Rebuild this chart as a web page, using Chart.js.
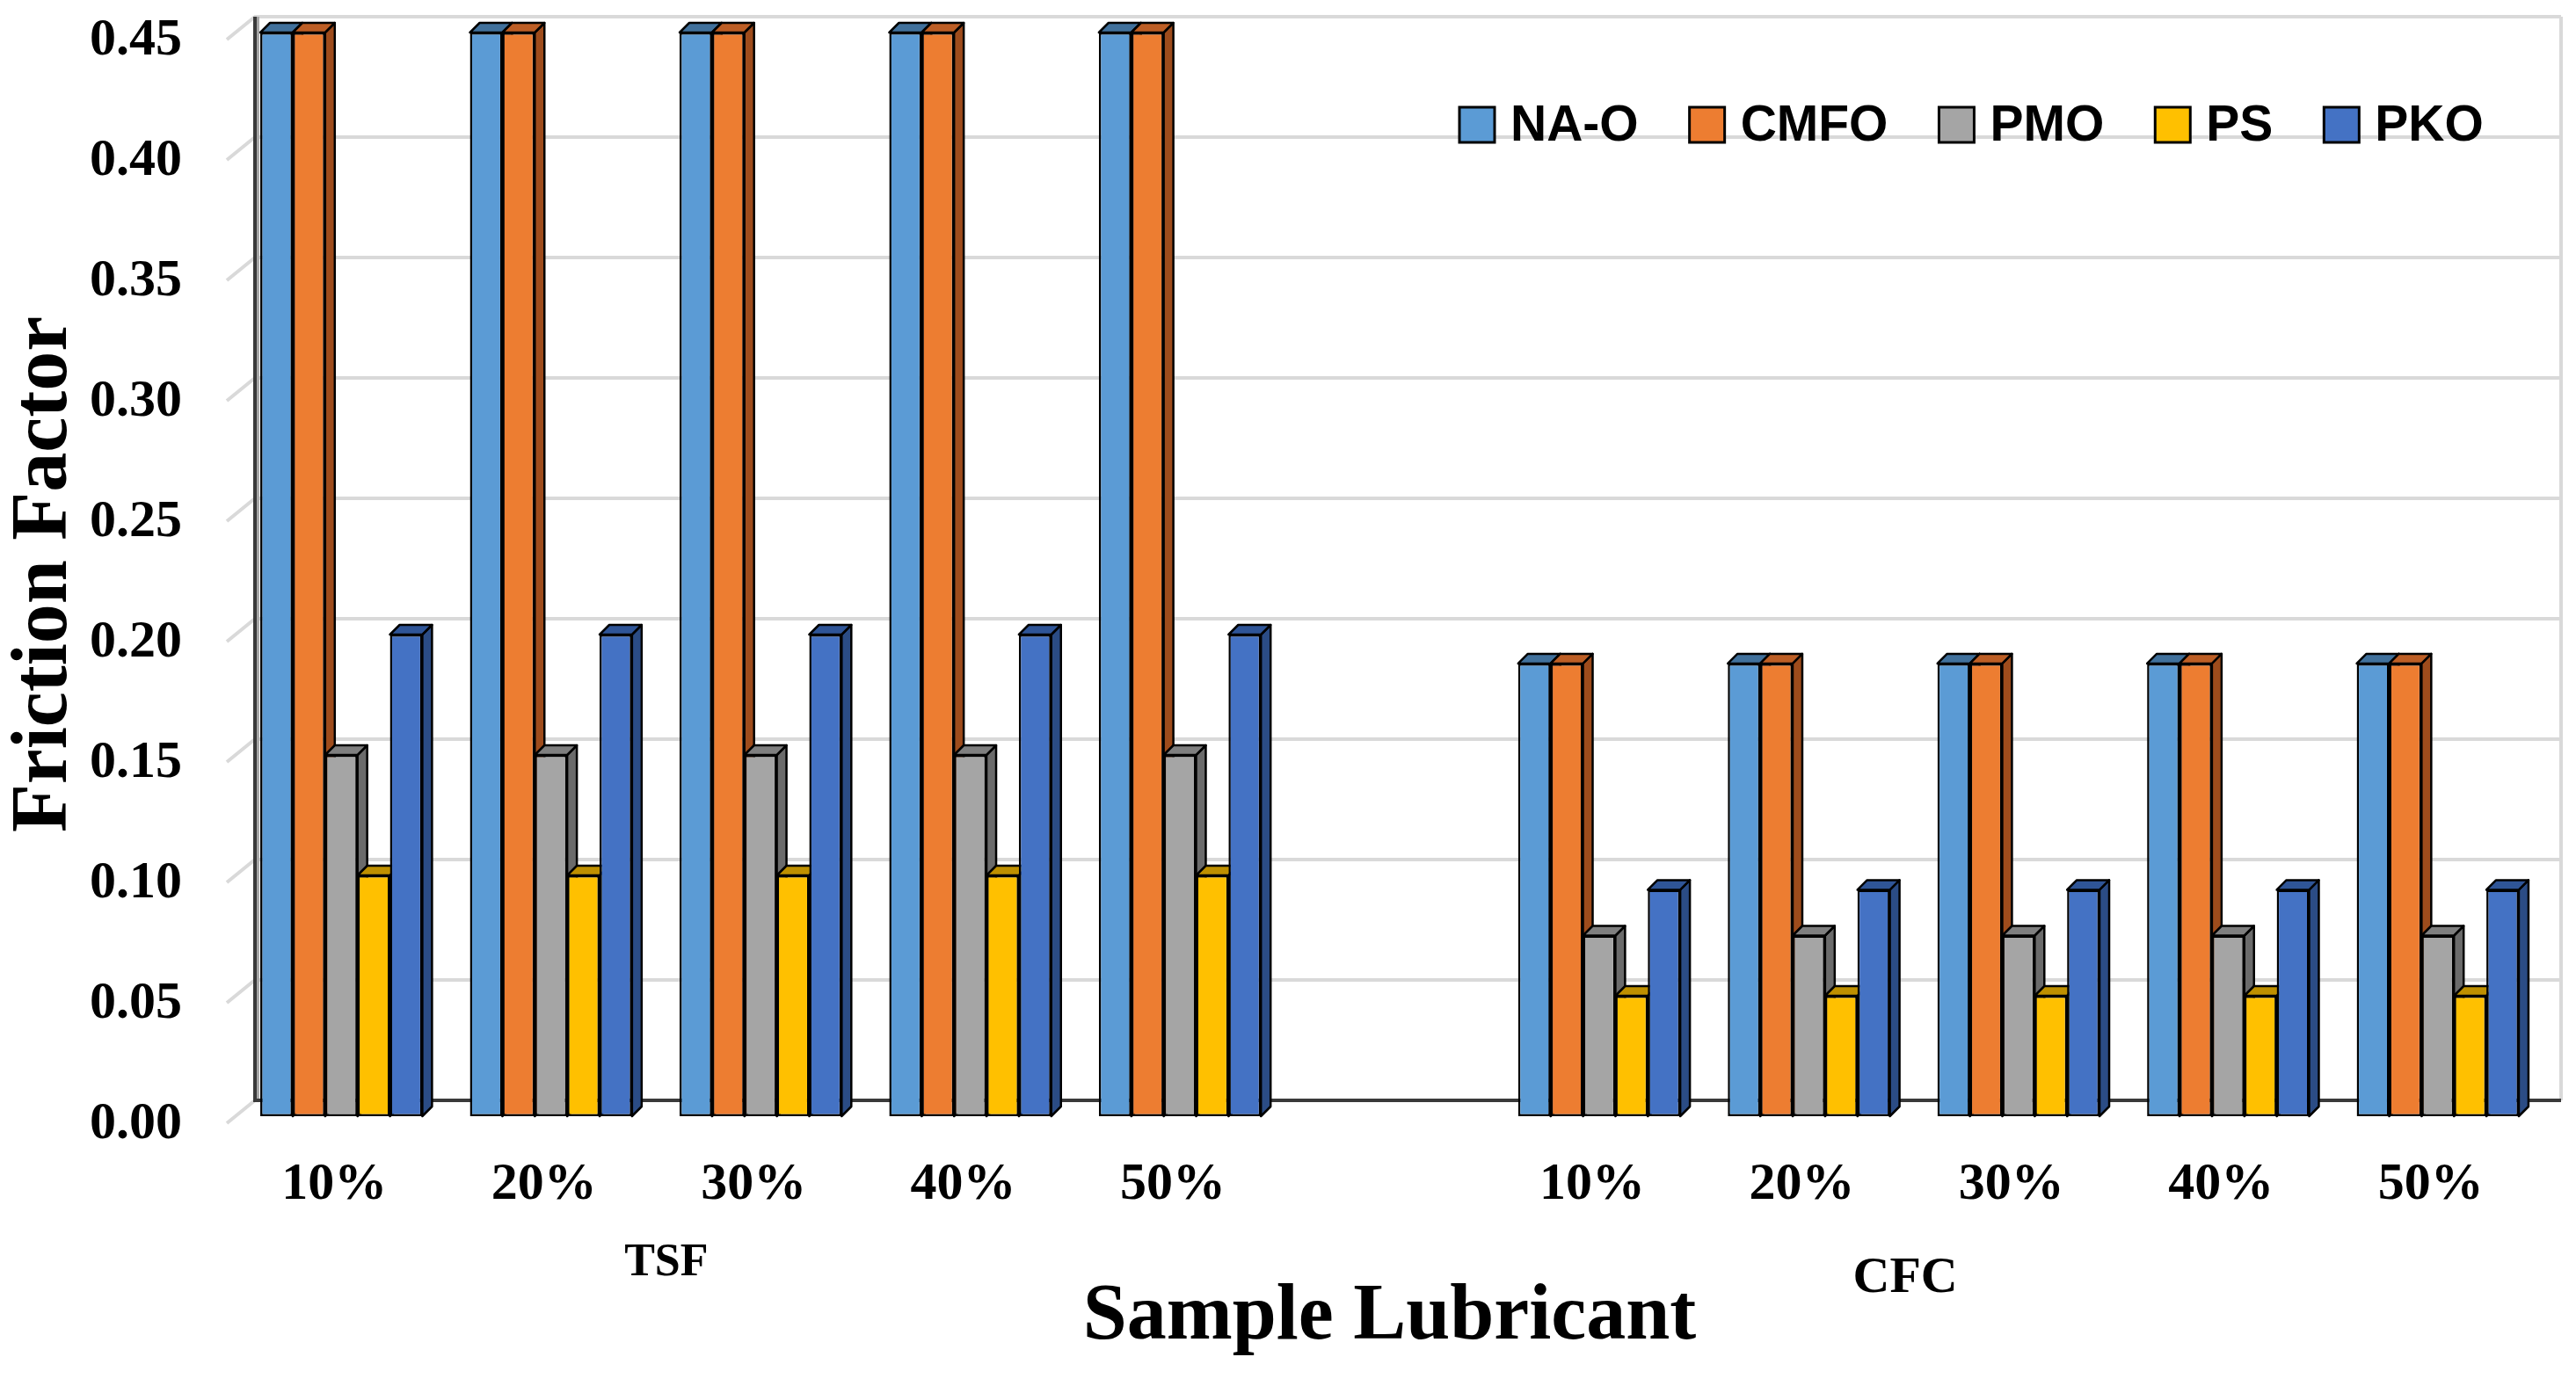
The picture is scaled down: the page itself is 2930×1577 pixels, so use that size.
<!DOCTYPE html>
<html>
<head>
<meta charset="utf-8">
<script src="https://cdn.jsdelivr.net/npm/chart.js@4.4.1/dist/chart.umd.min.js"></script>
<style>
  html, body { margin: 0; padding: 0; background: #fff; }
  canvas { display: block; }
</style>
</head>
<body>
<canvas id="chart" width="2930" height="1577"></canvas>
<script>
// categories: two groups of five concentrations with an empty slot between
const categories = ['10%', '20%', '30%', '40%', '50%', '', '10%', '20%', '30%', '40%', '50%'];
const groupNames = ['TSF', 'CFC'];
const groupMiddle = [2, 8];
const seriesNames = ['NA-O', 'CMFO', 'PMO', 'PS', 'PKO'];

// friction factor values
const naO  = [0.45, 0.45, 0.45, 0.45, 0.45, null, 0.188, 0.188, 0.188, 0.188, 0.188];
const cmfo = [0.45, 0.45, 0.45, 0.45, 0.45, null, 0.188, 0.188, 0.188, 0.188, 0.188];
const pmo  = [0.15, 0.15, 0.15, 0.15, 0.15, null, 0.075, 0.075, 0.075, 0.075, 0.075];
const ps   = [0.10, 0.10, 0.10, 0.10, 0.10, null, 0.05, 0.05, 0.05, 0.05, 0.05];
const pko  = [0.20, 0.20, 0.20, 0.20, 0.20, null, 0.094, 0.094, 0.094, 0.094, 0.094];

const yTicks = [0, 0.05, 0.10, 0.15, 0.20, 0.25, 0.30, 0.35, 0.40, 0.45];

const frontColors = ['#5B9BD5', '#ED7D31', '#A5A5A5', '#FFC000', '#4472C4'];
const topColors   = ['#41719C', '#BD5E25', '#7F7F7F', '#BF9000', '#2F5597'];
const sideColors  = ['#3A6690', '#9E4C1C', '#6B6B6B', '#A67C00', '#2B4C85'];

const seriesValues = [naO, cmfo, pmo, ps, pko];

const DEPTH = 11;     // bar depth in px
const BACK_DX = 21;   // back wall offset
const BACK_DY = 18;

function poly(ctx, pts, fill) {
  ctx.beginPath();
  ctx.moveTo(pts[0][0], pts[0][1]);
  for (let k = 1; k < pts.length; k++) ctx.lineTo(pts[k][0], pts[k][1]);
  ctx.closePath();
  ctx.fillStyle = fill;
  ctx.fill();
  ctx.stroke();
}

// back wall, floor and the 3D faces of the bars
const wall3d = {
  id: 'wall3d',
  beforeDatasetsDraw(chart) {
    const { ctx, chartArea: a, scales: { x, y } } = chart;
    const yTop = y.getPixelForValue(y.max) - BACK_DY;
    const yBot = y.getPixelForValue(0) - BACK_DY;
    ctx.save();
    ctx.strokeStyle = '#D9D9D9';
    ctx.lineWidth = 4;
    y.ticks.forEach(t => {
      const py = y.getPixelForValue(t.value);
      ctx.beginPath();
      ctx.moveTo(a.left - 11, py + 8);
      ctx.lineTo(a.left + BACK_DX, py - BACK_DY);
      if (t.value > 0) ctx.lineTo(a.right + BACK_DX, py - BACK_DY);
      ctx.stroke();
    });
    ctx.beginPath();
    ctx.moveTo(a.right + BACK_DX, yTop);
    ctx.lineTo(a.right + BACK_DX, yBot);
    ctx.stroke();

    // left wall edge: dark line with a grey rim
    ctx.strokeStyle = '#A6A6A6';
    ctx.lineWidth = 3;
    ctx.beginPath();
    ctx.moveTo(a.left + BACK_DX + 3.5, yTop);
    ctx.lineTo(a.left + BACK_DX + 3.5, yBot);
    ctx.stroke();

    ctx.strokeStyle = '#3A3A3A';
    ctx.lineWidth = 4;
    ctx.beginPath();
    ctx.moveTo(a.left + BACK_DX, yTop);
    ctx.lineTo(a.left + BACK_DX, yBot);
    ctx.lineTo(a.right + BACK_DX, yBot);
    ctx.stroke();

    ctx.strokeStyle = '#000';
    ctx.lineWidth = 2.5;
    ctx.lineJoin = 'round';
    chart.data.datasets.forEach((ds, i) => {
      chart.getDatasetMeta(i).data.forEach((bar, j) => {
        if (ds.data[j] == null) return;
        const p = bar.getProps(['x', 'y', 'base', 'width'], true);
        const l = p.x - p.width / 2, r = p.x + p.width / 2;
        poly(ctx, [[r, p.y], [r + DEPTH, p.y - DEPTH], [r + DEPTH, p.base - DEPTH], [r, p.base]], sideColors[i]);
        poly(ctx, [[l, p.y], [l + DEPTH, p.y - DEPTH], [r + DEPTH, p.y - DEPTH], [r, p.y]], topColors[i]);
      });
    });
    ctx.restore();
  },
  afterDraw(chart) {
    const { ctx, scales: { x } } = chart;
    ctx.save();
    // group labels under the concentrations
    ctx.fillStyle = '#000';
    ctx.textAlign = 'center';
    ctx.textBaseline = 'middle';
    const step = x.getPixelForValue(1) - x.getPixelForValue(0);
    ctx.font = 'bold 52px "Liberation Serif"';
    ctx.fillText(groupNames[0], x.getPixelForValue(groupMiddle[0]) - 0.45 * step, 1438);
    ctx.font = 'bold 58px "Liberation Serif"';
    ctx.fillText(groupNames[1], x.getPixelForValue(groupMiddle[1]) - 0.54 * step, 1455);

    // legend inside the plot, top right
    ctx.font = 'bold 57px "Liberation Sans"';
    ctx.textAlign = 'left';
    let lx = 1660;
    const ly = 142;
    chart.data.datasets.forEach((ds, i) => {
      ctx.fillStyle = frontColors[i];
      ctx.strokeStyle = '#000';
      ctx.lineWidth = 3;
      ctx.fillRect(lx, ly - 20, 40, 40);
      ctx.strokeRect(lx, ly - 20, 40, 40);
      ctx.fillStyle = '#000';
      ctx.fillText(ds.label, lx + 58, ly + 2);
      lx += 58 + ctx.measureText(ds.label).width + 58;
    });
    ctx.restore();
  }
};

new Chart(document.getElementById('chart'), {
  type: 'bar',
  data: {
    labels: categories,
    datasets: seriesNames.map((name, i) => ({
      label: name,
      data: seriesValues[i],
      backgroundColor: frontColors[i],
      borderColor: '#000',
      borderWidth: 2.5,
      borderSkipped: false,
      barPercentage: 1,
      categoryPercentage: 0.773
    }))
  },
  options: {
    responsive: false,
    devicePixelRatio: 1,
    animation: false,
    layout: { padding: { left: 0, right: 38, top: 0, bottom: 20 } },
    plugins: {
      legend: { display: false },
      tooltip: { enabled: false }
    },
    scales: {
      x: {
        afterFit: axis => {
          axis.height = 287;
          axis.paddingLeft = 0;
          axis.paddingRight = 0;
        },
        grid: { display: false, drawTicks: false },
        border: { display: false },
        ticks: {
          color: '#000',
          font: { family: 'Liberation Serif', weight: 'bold', size: 60 },
          padding: 42,
          labelOffset: -8,
          maxRotation: 0,
          autoSkip: false
        },
        title: {
          display: true,
          text: 'Sample Lubricant',
          color: '#000',
          font: { family: 'Liberation Serif', weight: 'bold', size: 90, lineHeight: 1.2 },
          padding: { top: 20, bottom: 3 }
        }
      },
      y: {
        min: 0,
        max: 0.45,
        afterBuildTicks: axis => { axis.ticks = yTicks.map(v => ({ value: v })); },
        afterFit: axis => {
          axis.width = 269;
          axis.paddingTop = 37;
          axis.paddingBottom = 0;
        },
        grid: { display: false, drawTicks: false },
        border: { display: false },
        ticks: {
          color: '#000',
          font: { family: 'Liberation Serif', weight: 'bold', size: 60 },
          padding: 62,
          labelOffset: 9,
          callback: v => v.toFixed(2)
        },
        title: {
          display: true,
          text: 'Friction Factor',
          color: '#000',
          font: { family: 'Liberation Serif', weight: 'bold', size: 90, lineHeight: 1.1 },
          padding: { top: 2, bottom: 0 }
        }
      }
    }
  },
  plugins: [wall3d]
});
</script>
</body>
</html>
